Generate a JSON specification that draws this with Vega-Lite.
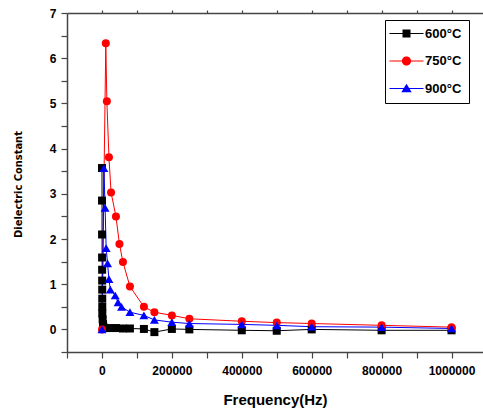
{
  "$schema": "https://vega.github.io/schema/vega-lite/v6.json",
  "width": 416,
  "height": 339,
  "autosize": "none",
  "padding": {"left": 67, "top": 13, "right": 0, "bottom": 59},
  "background": "white",
  "config": {
    "view": {"stroke": null},
    "axis": {
      "domainColor": "#444444",
      "tickColor": "#444444",
      "domainWidth": 1.5,
      "tickWidth": 1.2,
      "grid": false,
      "labelFont": "Liberation Sans",
      "labelFontWeight": "bold",
      "labelColor": "#000000",
      "titleFont": "Liberation Sans",
      "titleFontWeight": "bold",
      "titleColor": "#000000"
    }
  },
  "data": {
    "values": [
      {"series": "600°C", "freq": 100, "eps": 3.57},
      {"series": "600°C", "freq": 200, "eps": 2.85},
      {"series": "600°C", "freq": 300, "eps": 2.10},
      {"series": "600°C", "freq": 400, "eps": 1.59},
      {"series": "600°C", "freq": 500, "eps": 1.32},
      {"series": "600°C", "freq": 600, "eps": 1.08},
      {"series": "600°C", "freq": 700, "eps": 0.88},
      {"series": "600°C", "freq": 800, "eps": 0.68},
      {"series": "600°C", "freq": 900, "eps": 0.50},
      {"series": "600°C", "freq": 1000, "eps": 0.35},
      {"series": "600°C", "freq": 2000, "eps": 0.22},
      {"series": "600°C", "freq": 3000, "eps": 0.12},
      {"series": "600°C", "freq": 4000, "eps": 0.06},
      {"series": "600°C", "freq": 5000, "eps": 0.03},
      {"series": "600°C", "freq": 20000, "eps": 0.03},
      {"series": "600°C", "freq": 40000, "eps": 0.03},
      {"series": "600°C", "freq": 60000, "eps": 0.02},
      {"series": "600°C", "freq": 80000, "eps": 0.02},
      {"series": "600°C", "freq": 120000, "eps": 0.01},
      {"series": "600°C", "freq": 150000, "eps": -0.06},
      {"series": "600°C", "freq": 200000, "eps": 0.01},
      {"series": "600°C", "freq": 250000, "eps": 0.0},
      {"series": "600°C", "freq": 400000, "eps": -0.02},
      {"series": "600°C", "freq": 500000, "eps": -0.03},
      {"series": "600°C", "freq": 600000, "eps": 0.0},
      {"series": "600°C", "freq": 800000, "eps": -0.02},
      {"series": "600°C", "freq": 1000000, "eps": -0.02},
      {"series": "750°C", "freq": 100, "eps": 0.0},
      {"series": "750°C", "freq": 11000, "eps": 6.33},
      {"series": "750°C", "freq": 14000, "eps": 5.05},
      {"series": "750°C", "freq": 20000, "eps": 3.81},
      {"series": "750°C", "freq": 26000, "eps": 3.03},
      {"series": "750°C", "freq": 40000, "eps": 2.50},
      {"series": "750°C", "freq": 50000, "eps": 1.89},
      {"series": "750°C", "freq": 60000, "eps": 1.49},
      {"series": "750°C", "freq": 80000, "eps": 0.95},
      {"series": "750°C", "freq": 120000, "eps": 0.50},
      {"series": "750°C", "freq": 150000, "eps": 0.38},
      {"series": "750°C", "freq": 200000, "eps": 0.31},
      {"series": "750°C", "freq": 250000, "eps": 0.235},
      {"series": "750°C", "freq": 400000, "eps": 0.18},
      {"series": "750°C", "freq": 500000, "eps": 0.15},
      {"series": "750°C", "freq": 600000, "eps": 0.13},
      {"series": "750°C", "freq": 800000, "eps": 0.09},
      {"series": "750°C", "freq": 1000000, "eps": 0.05},
      {"series": "900°C", "freq": 100, "eps": 0.0},
      {"series": "900°C", "freq": 5500, "eps": 3.57},
      {"series": "900°C", "freq": 9000, "eps": 2.69},
      {"series": "900°C", "freq": 12000, "eps": 1.80},
      {"series": "900°C", "freq": 16000, "eps": 1.46},
      {"series": "900°C", "freq": 20000, "eps": 1.11},
      {"series": "900°C", "freq": 24000, "eps": 0.88},
      {"series": "900°C", "freq": 38000, "eps": 0.75},
      {"series": "900°C", "freq": 46000, "eps": 0.60},
      {"series": "900°C", "freq": 56000, "eps": 0.50},
      {"series": "900°C", "freq": 80000, "eps": 0.38},
      {"series": "900°C", "freq": 120000, "eps": 0.31},
      {"series": "900°C", "freq": 150000, "eps": 0.21},
      {"series": "900°C", "freq": 200000, "eps": 0.16},
      {"series": "900°C", "freq": 250000, "eps": 0.13},
      {"series": "900°C", "freq": 400000, "eps": 0.11},
      {"series": "900°C", "freq": 500000, "eps": 0.09},
      {"series": "900°C", "freq": 600000, "eps": 0.06},
      {"series": "900°C", "freq": 800000, "eps": 0.05},
      {"series": "900°C", "freq": 1000000, "eps": 0.02}
    ]
  },
  "resolve": {
    "axis": {"x": "independent", "y": "independent"},
    "legend": {"color": "independent"}
  },
  "layer": [
    {
      "mark": {"type": "line", "strokeWidth": 1},
      "encoding": {
        "x": {
          "field": "freq", "type": "quantitative",
          "scale": {"domain": [-100000, 1090000], "nice": false, "zero": false},
          "axis": {
            "orient": "bottom",
            "title": "Frequency(Hz)",
            "titleFontSize": 15,
            "titleY": 47,
            "titleBaseline": "middle",
            "values": [-100000, 0, 100000, 200000, 300000, 400000, 500000, 600000, 700000, 800000, 900000, 1000000],
            "format": "d",
            "labelExpr": "datum.value % 200000 === 0 ? datum.label : ''",
            "labelFontSize": 12,
            "labelPadding": 7,
            "tickSize": 6,
            "labelFlush": false,
            "labelOverlap": false,
            "encode": {"ticks": {"y2": {"condition": {"test": "datum.value % 200000 === 0", "value": 6}, "value": 3}}}
          }
        },
        "y": {
          "field": "eps", "type": "quantitative",
          "scale": {"domain": [-0.5, 7], "nice": false, "zero": false},
          "axis": {
            "orient": "left",
            "title": "Dielectric Constant",
            "titleFont": "DejaVu Sans Condensed, Liberation Sans Narrow, Liberation Sans",
            "titleFontSize": 11,
            "titleX": -49,
            "titleY": 171,
            "titleAngle": -90,
            "titleBaseline": "middle",
            "titleAlign": "center",
            "values": [-0.5, 0, 0.5, 1, 1.5, 2, 2.5, 3, 3.5, 4, 4.5, 5, 5.5, 6, 6.5, 7],
            "labelExpr": "datum.value % 1 === 0 ? ('' + datum.value) : ''",
            "labelFontSize": 12,
            "labelPadding": 5,
            "tickSize": 6,
            "labelFlush": false,
            "labelOverlap": false,
            "encode": {"ticks": {"x2": {"condition": {"test": "datum.value % 1 === 0", "value": -6}, "value": -3}}}
          }
        },
        "color": {
          "field": "series", "type": "nominal",
          "scale": {"domain": ["600°C", "750°C", "900°C"], "range": ["#000000", "#FF0000", "#0000FF"]},
          "legend": {
            "title": null,
            "orient": "none",
            "legendX": 318,
            "legendY": 7,
            "strokeColor": "#000000",
            "padding": 7,
            "rowPadding": 13.5,
            "symbolSize": 64,
            "symbolStrokeWidth": 0,
            "symbolType": {"expr": "datum.value === '600°C' ? 'M-2.25,-0.12 H6.25 V0.12 H-2.25 Z M1,-1 H3 V1 H1 Z' : datum.value === '750°C' ? 'M-2.25,-0.12 H6.25 V0.12 H-2.25 Z M3.15,0 A1.15,1.15 0 1,1 0.85,0 A1.15,1.15 0 1,1 3.15,0 Z' : 'M-2.25,-0.12 H6.25 V0.12 H-2.25 Z M2,-1.2 L3.3,0.95 L0.7,0.95 Z'"},
            "symbolFillColor": {"expr": "scale('color', datum.value)"},
            "labelFont": "Liberation Sans",
            "labelFontWeight": "bold",
            "labelFontSize": 13,
            "labelColor": "#000000",
            "labelOffset": 20
          }
        }
      }
    },
    {
      "transform": [{"filter": "datum.series === '600°C'"}],
      "mark": {"type": "point", "shape": "square", "filled": true, "opacity": 1, "size": 64},
      "encoding": {
        "x": {
          "field": "freq", "type": "quantitative",
          "axis": {
            "orient": "top",
            "title": null,
            "labels": false,
            "values": [0, 100000, 200000, 300000, 400000, 500000, 600000, 700000, 800000, 900000, 1000000],
            "tickSize": 3,
            "encode": {"ticks": {"y2": {"value": 3}}}
          }
        },
        "y": {"field": "eps", "type": "quantitative", "axis": null},
        "color": {"field": "series", "type": "nominal", "legend": null}
      }
    },
    {
      "transform": [{"filter": "datum.series === '750°C'"}],
      "mark": {"type": "point", "shape": "circle", "filled": true, "opacity": 1, "size": 64},
      "encoding": {
        "x": {"field": "freq", "type": "quantitative", "axis": null},
        "y": {"field": "eps", "type": "quantitative", "axis": null},
        "color": {"field": "series", "type": "nominal", "legend": null}
      }
    },
    {
      "transform": [{"filter": "datum.series === '900°C'"}],
      "mark": {"type": "point", "shape": "triangle-up", "filled": true, "opacity": 1, "size": 80},
      "encoding": {
        "x": {"field": "freq", "type": "quantitative", "axis": null},
        "y": {"field": "eps", "type": "quantitative", "axis": null},
        "color": {"field": "series", "type": "nominal", "legend": null}
      }
    }
  ]
}
